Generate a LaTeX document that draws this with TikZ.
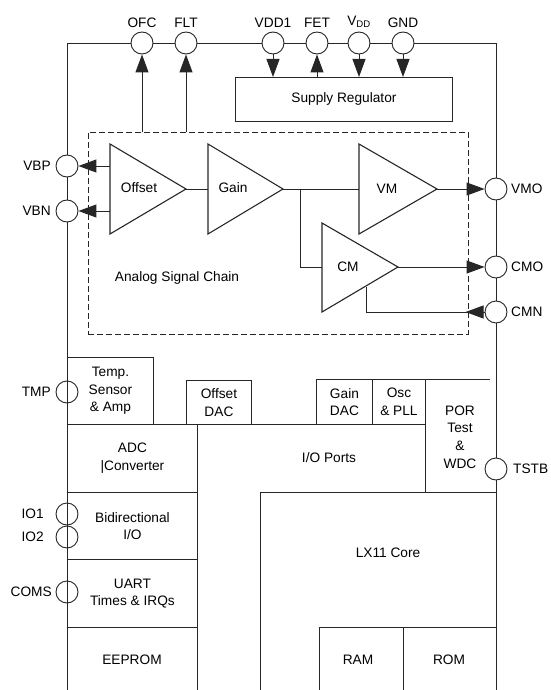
\documentclass[tikz,border=0pt]{standalone}
\usepackage{fontspec}
\setmainfont{Liberation Sans}
\usetikzlibrary{arrows.meta}

\tikzset{
    pin/.style={circle, draw, fill=white, minimum size=22pt, inner sep=0pt},
    blk/.style={draw, align=center, inner sep=0pt, anchor=north west},
    amp/.style={line width=1.1pt, line join=miter},
    sig/.style={line width=1pt, -{Triangle[length=18pt,width=13pt]}},
}

\begin{document}
\begin{tikzpicture}[x=1pt, y=-1pt, line width=0.9pt, draw=black!85,
    font=\fontsize{13.7}{17.6}\selectfont]
    \useasboundingbox (0,0) rectangle (550,690);

    % Outer frame of the chip
    \draw (67,690) -- (67,43) -- (496,43) -- (496,690);

    % Top pins
    \node[pin, label=above:OFC] (ofc) at (142,43) {};
    \node[pin, label=above:FLT] (flt) at (186,43) {};
    \node[pin, label=above:VDD1] (vdd1) at (273,43) {};
    \node[pin, label=above:FET] (fet) at (317,43) {};
    \node[pin, label=above:V\textsubscript{DD}] (vdd) at (359,43) {};
    \node[pin, label=above:GND] (gnd) at (403,43) {};

    % Left pins
    \node[pin, label={[label distance=1pt]left:VBP}] (vbp) at (67,166) {};
    \node[pin, label={[label distance=1pt]left:VBN}] (vbn) at (67,211) {};
    \node[pin, label={[label distance=1pt]left:TMP}] (tmp) at (67,392) {};
    \node[pin, label={[label distance=8pt]left:IO1}] (io1) at (67,514) {};
    \node[pin, label={[label distance=8pt]left:IO2}] (io2) at (67,537) {};
    \node[pin, label={[label distance=0pt]left:COMS}] (coms) at (67,592) {};

    % Right pins
    \node[pin, label={[label distance=0pt]right:VMO}] (vmo) at (496,189) {};
    \node[pin, label={[label distance=0pt]right:CMO}] (cmo) at (496,267) {};
    \node[pin, label={[label distance=0pt]right:CMN}] (cmn) at (496,312) {};
    \node[pin, label={[label distance=2pt]right:TSTB}] (tstb) at (496,469) {};

    % Supply regulator
    \node[blk, minimum width=217pt, minimum height=44pt] (reg) at (235,77) {Supply Regulator};
    \draw[sig] (vdd1.south) -- (vdd1.south |- reg.north);
    \draw[sig] (fet.south |- reg.north) -- (fet.south);
    \draw[sig] (vdd.south) -- (vdd.south |- reg.north);
    \draw[sig] (gnd.south) -- (gnd.south |- reg.north);

    % Analog signal chain
    \node[draw, dash pattern=on 6pt off 3pt, minimum width=380pt, minimum height=202pt,
        inner sep=0pt, anchor=north west] (chain) at (88,132) {};
    \node (chainlbl) at (177,278) {Analog Signal Chain};
    \draw[sig] (ofc.south |- chain.north) -- (ofc.south);
    \draw[sig] (flt.south |- chain.north) -- (flt.south);

    % Amplifiers
    \draw[amp] (110,144) -- (186,189) -- (110,234) -- cycle;
    \node (offset) at (139,188) {Offset};
    \draw[amp] (208,144) -- (283,189) -- (208,234) -- cycle;
    \node (gain) at (233,188) {Gain};
    \draw[amp] (359,144) -- (437,189) -- (359,234) -- cycle;
    \node (vm) at (387,189) {VM};
    \draw[amp] (322,223) -- (398,267) -- (322,312) -- cycle;
    \node (cm) at (348,267) {CM};

    \coordinate (offp) at (110,166);
    \coordinate (offn) at (110,211);
    \coordinate (offout) at (186,189);
    \coordinate (gainin) at (208,189);
    \coordinate (gainout) at (283,189);
    \coordinate (split) at (300,189);
    \coordinate (vmin) at (359,189);
    \coordinate (vmout) at (437,189);
    \coordinate (cmin) at (322,267);
    \coordinate (cmout) at (398,267);
    \coordinate (cmfb) at (366,287);

    % Signal paths
    \draw[sig] (offp) -- (vbp.east);
    \draw[sig] (offn) -- (vbn.east);
    \draw (offout) -- (gainin);
    \draw (gainout) -- (vmin);
    \draw (split) |- (cmin);
    \draw[sig] (vmout) -- (vmo.west);
    \draw[sig] (cmout) -- (cmo.west);
    \draw (cmn.west) -| (cmfb);
    \draw[sig] (cmn.west) -- ++(-19,0);

    % Digital blocks
    \node[blk, minimum width=86pt, minimum height=67pt] (temp) at (67,357) {Temp.\\Sensor\\\& Amp};
    \node[blk, minimum width=65pt, minimum height=44pt] (offdac) at (186,380) {Offset\\DAC};
    \node[blk, minimum width=56pt, minimum height=45pt] (gaindac) at (316,379) {Gain\\DAC};
    \node[blk, minimum width=53pt, minimum height=45pt] (osc) at (372,379) {Osc\\\& PLL};
    \node[blk, minimum width=130pt, minimum height=68pt] (adc) at (67,424) {ADC\\|Converter};
    \node[blk, minimum width=130pt, minimum height=67pt] (bidir) at (67,492) {Bidirectional\\I/O};
    \node[blk, minimum width=130pt, minimum height=68pt] (uart) at (67,559) {UART\\Times \& IRQs};

    \draw (67,627) -- (197,627);
    \draw (197,424) -- (197,690);
    \draw (197,424) -- (425,424);
    \draw (372,379) -- (490,379);
    \draw (425,379) -- (425,492);
    \draw (260,690) -- (260,492) -- (496,492);
    \draw (319,690) -- (319,627) -- (496,627);
    \draw (403,627) -- (403,690);

    \node (eeprom) at (132,660) {EEPROM};
    \node (ioports) at (329,458) {I/O Ports};
    \node[align=center] (por) at (460,437) {POR\\Test\\\&\\WDC};
    \node (core) at (388,553) {LX11 Core};
    \node (ram) at (358,660) {RAM};
    \node (rom) at (449,660) {ROM};
\end{tikzpicture}
\end{document}
